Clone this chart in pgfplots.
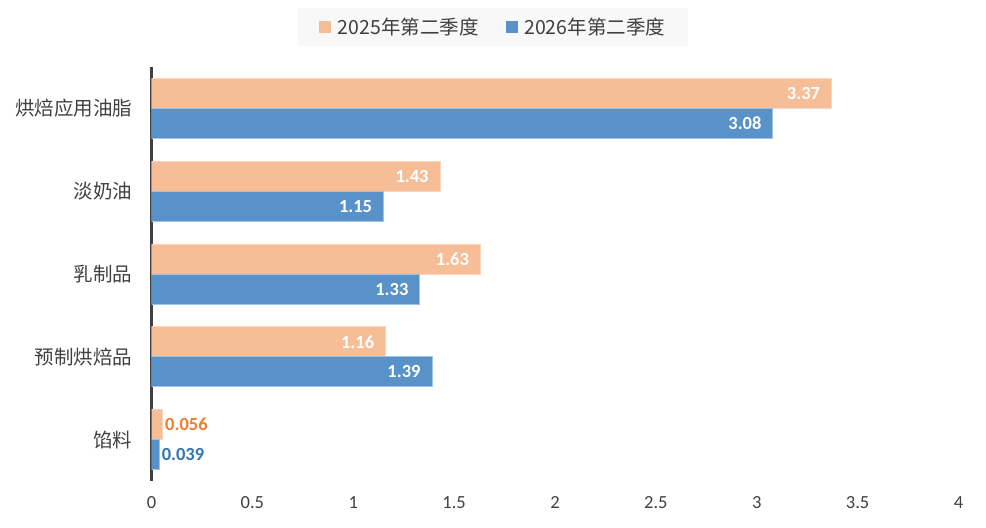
\documentclass[border=0pt]{standalone}
\usepackage{fontspec}
\setmainfont{Carlito}
\newfontfamily\cjk{Noto Sans CJK SC}
\usepackage{pgfplots}
\pgfplotsset{compat=1.18}
\definecolor{ofill}{RGB}{246,190,150}
\definecolor{oedge}{RGB}{250,214,190}
\definecolor{bfill}{RGB}{88,146,200}
\definecolor{bedge}{RGB}{160,196,228}
\definecolor{otext}{RGB}{237,125,49}
\definecolor{btext}{RGB}{46,117,182}
\definecolor{axisgray}{RGB}{64,64,64}
\definecolor{legendbg}{RGB}{248,248,248}
\begin{document}
\begin{tikzpicture}
\path[use as bounding box] (0,0) rectangle (986bp,528bp);
\begin{axis}[
  at={(151.5bp,47bp)}, anchor=south west,
  scale only axis, width=807bp, height=414bp,
  xbar, bar width=30bp,
  xmin=0, xmax=4, ymin=-0.5, ymax=4.5,
  xtick={0,0.5,...,4},
  ytick={0,1,2,3,4},
  yticklabels={馅料,预制烘焙品,乳制品,淡奶油,烘焙应用油脂},
  yticklabel style={font=\cjk\fontsize{19.5bp}{22bp}\selectfont, text=axisgray, anchor=east, inner sep=0pt, xshift=-19bp},
  xticklabel style={font=\fontsize{18.5bp}{22bp}\selectfont, text=axisgray, anchor=north, inner sep=0pt, yshift=-15.5bp},
  /pgf/number format/assume math mode=true,
  major tick length=0pt,
  axis lines*=left,
  x axis line style={draw=none},
  y axis line style={line width=3bp, draw=axisgray},
  legend columns=2,
  legend style={at={(0.4232,1.0966)}, anchor=center, draw=none, fill=legendbg,
    font=\cjk\fontsize{19.5bp}{22bp}\selectfont, text=axisgray,
    inner xsep=21bp, inner ysep=8bp,
    /tikz/every even column/.append style={column sep=25bp}},
  legend cell align=left,
  point meta=explicit symbolic,
  nodes near coords={\pgfplotspointmeta},
]
\addplot[fill=ofill, draw=oedge, line width=0.8bp, bar shift=15bp,
  nodes near coords style={font=\bfseries\fontsize{18.5bp}{22bp}\selectfont, text=white, anchor=east, inner sep=0pt, xshift=-11bp},
  legend image code/.code={\fill[ofill] (0bp,-5.5bp) rectangle (11bp,5.5bp); \path (16bp,0bp);}]
  coordinates {(3.37,4) [3.37] (1.43,3) [1.43] (1.63,2) [1.63] (1.16,1) [1.16]};
\addlegendentry{2025年第二季度}
\addplot[fill=bfill, draw=bedge, line width=0.8bp, bar shift=-15bp,
  nodes near coords style={font=\bfseries\fontsize{18.5bp}{22bp}\selectfont, text=white, anchor=east, inner sep=0pt, xshift=-11bp},
  legend image code/.code={\fill[bfill] (0bp,-5.5bp) rectangle (11bp,5.5bp); \path (16bp,0bp);}]
  coordinates {(3.08,4) [3.08] (1.15,3) [1.15] (1.33,2) [1.33] (1.39,1) [1.39]};
\addlegendentry{2026年第二季度}
\addplot[forget plot, fill=ofill, draw=oedge, line width=0.8bp, bar shift=15bp,
  nodes near coords style={font=\bfseries\fontsize{18.5bp}{22bp}\selectfont, text=otext, anchor=west, inner sep=0pt, xshift=2bp}]
  coordinates {(0.056,0) [0.056]};
\addplot[forget plot, fill=bfill, draw=bedge, line width=0.8bp, bar shift=-15bp,
  nodes near coords style={font=\bfseries\fontsize{18.5bp}{22bp}\selectfont, text=btext, anchor=west, inner sep=0pt, xshift=2bp}]
  coordinates {(0.039,0) [0.039]};
\end{axis}
\end{tikzpicture}
\end{document}
